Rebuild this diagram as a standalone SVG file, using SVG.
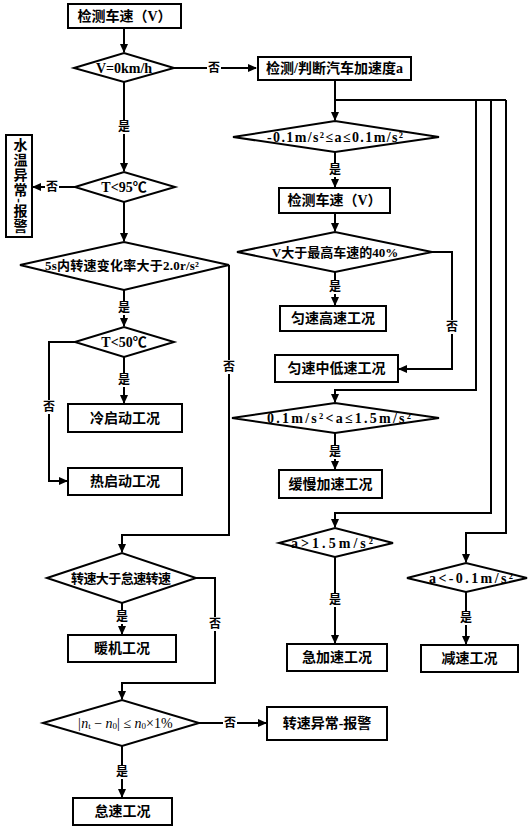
<svg xmlns="http://www.w3.org/2000/svg" width="528" height="827" viewBox="0 0 528 827">
<style>
.box{fill:#fff;stroke:#000;stroke-width:2}
.dia{fill:#fff;stroke:#000;stroke-width:2}
.t{font-family:"Liberation Serif","Noto Sans CJK SC",serif;font-weight:bold;font-size:14px;text-anchor:middle;dominant-baseline:central;fill:#000}
.s{font-size:13px}
.ln{fill:none;stroke:#000;stroke-width:2}
.lb{font-family:"Liberation Serif","Noto Sans CJK SC",serif;font-weight:bold;font-size:12px;text-anchor:middle;dominant-baseline:central;fill:#000}
.bg{fill:#fff}
</style>
<defs>
<marker id="ar" markerUnits="userSpaceOnUse" markerWidth="9" markerHeight="8" refX="8" refY="4" orient="auto">
<path d="M0,0 L9,4 L0,8 z" fill="#000"/>
</marker>
</defs>
<rect width="528" height="827" fill="#fff"/>
<g id="connectors">
<path class="ln" d="M124,28 V52" marker-end="url(#ar)"/>
<path class="ln" d="M174,68 H256" marker-end="url(#ar)"/>
<path class="ln" d="M124,82 V171" marker-end="url(#ar)"/>
<path class="ln" d="M75,187 H33" marker-end="url(#ar)"/>
<path class="ln" d="M124,202 V241" marker-end="url(#ar)"/>
<path class="ln" d="M124,290 V326" marker-end="url(#ar)"/>
<path class="ln" d="M124,357 V403" marker-end="url(#ar)"/>
<path class="ln" d="M75,342 H49 V481 H67" marker-end="url(#ar)"/>
<path class="ln" d="M229,265 V535 H122 V552" marker-end="url(#ar)"/>
<path class="ln" d="M122,603 V634" marker-end="url(#ar)"/>
<path class="ln" d="M196,578 H215 V683 H122 V699" marker-end="url(#ar)"/>
<path class="ln" d="M199,723 H266" marker-end="url(#ar)"/>
<path class="ln" d="M122,746 V797" marker-end="url(#ar)"/>
<path class="ln" d="M335,80 V120" marker-end="url(#ar)"/>
<path class="ln" d="M335,100 H506"/>
<path class="ln" d="M476,100 V390 H335 V402" marker-end="url(#ar)"/>
<path class="ln" d="M491,100 V513 H335 V527" marker-end="url(#ar)"/>
<path class="ln" d="M506,100 V533 H466 V562" marker-end="url(#ar)"/>
<path class="ln" d="M335,152 V187" marker-end="url(#ar)"/>
<path class="ln" d="M335,213 V231" marker-end="url(#ar)"/>
<path class="ln" d="M335,272 V305" marker-end="url(#ar)"/>
<path class="ln" d="M432,252 H452 V369 H399" marker-end="url(#ar)"/>
<path class="ln" d="M335,433 V469" marker-end="url(#ar)"/>
<path class="ln" d="M335,557 V643" marker-end="url(#ar)"/>
<path class="ln" d="M466,592 V644" marker-end="url(#ar)"/>
<g id="labels">
<rect class="bg" x="207" y="61" width="14" height="14"/><text class="lb" x="214" y="68">否</text>
<rect class="bg" x="117" y="120" width="14" height="14"/><text class="lb" x="124" y="127">是</text>
<rect class="bg" x="45" y="180" width="14" height="14"/><text class="lb" x="52" y="187">否</text>
<rect class="bg" x="117" y="301" width="14" height="14"/><text class="lb" x="124" y="308">是</text>
<rect class="bg" x="117" y="373" width="14" height="14"/><text class="lb" x="124" y="380">是</text>
<rect class="bg" x="42" y="400" width="14" height="14"/><text class="lb" x="49" y="407">否</text>
<rect class="bg" x="222" y="360" width="14" height="14"/><text class="lb" x="229" y="367">否</text>
<rect class="bg" x="115" y="610" width="14" height="14"/><text class="lb" x="122" y="617">是</text>
<rect class="bg" x="208" y="617" width="14" height="14"/><text class="lb" x="215" y="624">否</text>
<rect class="bg" x="223" y="716" width="14" height="14"/><text class="lb" x="230" y="723">否</text>
<rect class="bg" x="115" y="765" width="14" height="14"/><text class="lb" x="122" y="772">是</text>
<rect class="bg" x="328" y="163" width="14" height="14"/><text class="lb" x="335" y="170">是</text>
<rect class="bg" x="328" y="280" width="14" height="14"/><text class="lb" x="335" y="287">是</text>
<rect class="bg" x="445" y="320" width="14" height="14"/><text class="lb" x="452" y="327">否</text>
<rect class="bg" x="328" y="445" width="14" height="14"/><text class="lb" x="335" y="452">是</text>
<rect class="bg" x="328" y="593" width="14" height="14"/><text class="lb" x="335" y="600">是</text>
<rect class="bg" x="459" y="611" width="14" height="14"/><text class="lb" x="466" y="618">是</text>
</g>
</g>
<g id="n1"><rect class="box" x="68" y="4" width="113" height="24"/><text class="t" x="124.5" y="16">检测车速（V）</text></g>
<g id="n2"><polygon class="dia" points="74,68 124,53 174,68 124,82"/><text class="t" x="124" y="68">V=0km/h</text></g>
<g id="n3"><rect class="box" x="258" y="57" width="153" height="23"/><text class="t" x="334.5" y="68.5">检测/判断汽车加速度a</text></g>
<g id="n4"><polygon class="dia" points="75,187 124,172 175,187 124,202"/><text class="t" x="124" y="187">T&lt;95℃</text></g>
<g id="n5"><rect class="box" x="6" y="135" width="26" height="102"/><text class="t" x="19" y="186" style="writing-mode:vertical-rl;letter-spacing:1px">水温异常-报警</text></g>
<g id="n6"><polygon class="dia" points="20,265 124,242 229,265 124,290"/><text class="t s" x="122" y="265" textLength="154" lengthAdjust="spacing">5s内转速变化率大于2.0r/s²</text></g>
<g id="n7"><polygon class="dia" points="75,342 124,327 174,342 124,357"/><text class="t" x="124" y="342">T&lt;50℃</text></g>
<g id="n8"><rect class="box" x="68" y="404" width="114" height="28"/><text class="t" x="125" y="418">冷启动工况</text></g>
<g id="n9"><rect class="box" x="68" y="468" width="114" height="27"/><text class="t" x="125" y="481.5">热启动工况</text></g>
<g id="n10"><polygon class="dia" points="47,578 122,553 196,578 122,603"/><text class="t s" x="121" y="578" textLength="100" lengthAdjust="spacing">转速大于怠速转速</text></g>
<g id="n11"><rect class="box" x="68" y="635" width="108" height="27"/><text class="t" x="122" y="648.5">暖机工况</text></g>
<g id="n12"><polygon class="dia" points="43,723 122,700 199,723 122,746"/><text class="t" x="125" y="723" style="font-weight:normal"><tspan font-style="italic">|n</tspan><tspan font-size="9" dy="3">t</tspan><tspan dy="-3"> − </tspan><tspan font-style="italic">n</tspan><tspan font-size="9" dy="3">0</tspan><tspan dy="-3">| ≤ </tspan><tspan font-style="italic">n</tspan><tspan font-size="9" dy="3">0</tspan><tspan dy="-3">×1%</tspan></text></g>
<g id="n13"><rect class="box" x="267" y="707" width="120" height="33"/><text class="t" x="327" y="723.5">转速异常-报警</text></g>
<g id="n14"><rect class="box" x="73" y="798" width="99" height="27"/><text class="t" x="122.5" y="811.5">怠速工况</text></g>
<g id="n15"><polygon class="dia" points="233,137 335,121 439,137 335,152"/><text class="t" x="335" y="137" textLength="136" lengthAdjust="spacing">-0.1m/s²≤a≤0.1m/s²</text></g>
<g id="n16"><rect class="box" x="279" y="188" width="111" height="25"/><text class="t" x="334.5" y="200.5">检测车速（V）</text></g>
<g id="n17"><polygon class="dia" points="237,252 335,232 432,252 335,272"/><text class="t s" x="335" y="252">V大于最高车速的40%</text></g>
<g id="n18"><rect class="box" x="280" y="306" width="106" height="25"/><text class="t" x="333" y="318.5">匀速高速工况</text></g>
<g id="n19"><rect class="box" x="275" y="355" width="123" height="27"/><text class="t" x="336.5" y="368.5">匀速中低速工况</text></g>
<g id="n20"><polygon class="dia" points="232,418 335,403 439,418 335,433"/><text class="t" x="339" y="418" textLength="144" lengthAdjust="spacing">0.1m/s²&lt;a≤1.5m/s²</text></g>
<g id="n21"><rect class="box" x="279" y="470" width="103" height="28"/><text class="t" x="330.5" y="484">缓慢加速工况</text></g>
<g id="n22"><polygon class="dia" points="279,543 335,528 393,543 335,557"/><text class="t" x="332" y="543" textLength="82" lengthAdjust="spacing">a&gt;1.5m/s²</text></g>
<g id="n23"><rect class="box" x="287" y="644" width="100" height="27"/><text class="t" x="337" y="657.5">急加速工况</text></g>
<g id="n24"><polygon class="dia" points="407,578 466,563 527,578 466,592"/><text class="t" x="471" y="578" textLength="84" lengthAdjust="spacing">a&lt;-0.1m/s²</text></g>
<g id="n25"><rect class="box" x="421" y="645" width="97" height="27"/><text class="t" x="469.5" y="658.5">减速工况</text></g>
</svg>
